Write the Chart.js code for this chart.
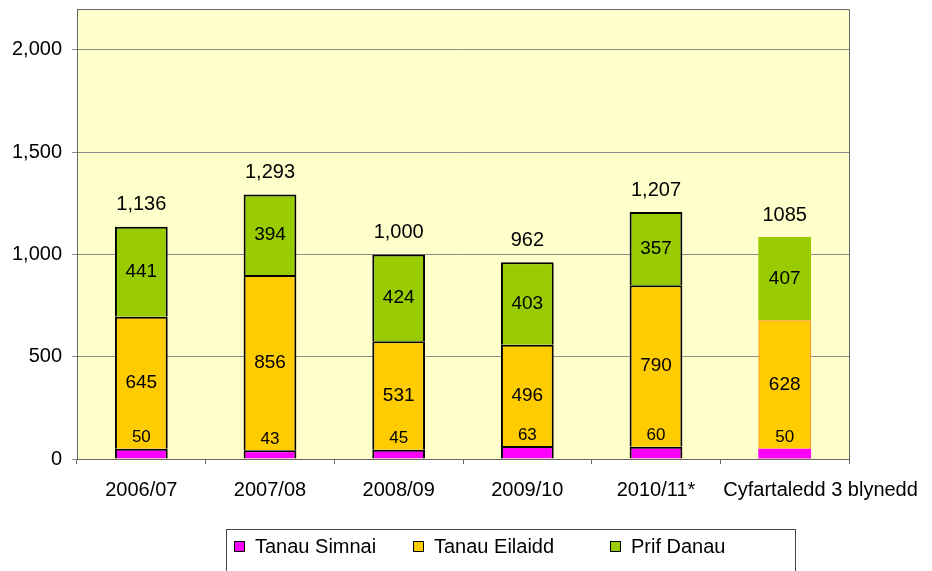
<!DOCTYPE html>
<html>
<head>
<meta charset="utf-8">
<script src="https://cdn.jsdelivr.net/npm/chart.js@4.4.1/dist/chart.umd.min.js"></script>
<style>
  html, body { margin: 0; padding: 0; background: #fff; }
  #wrap { width: 932px; height: 571px; position: relative; }
</style>
</head>
<body>
<div id="wrap"><canvas id="chart"></canvas></div>
<script>
const categories = ['2006/07', '2007/08', '2008/09', '2009/10', '2010/11*', 'Cyfartaledd 3 blynedd'];
const simnai = [50, 43, 45, 63, 60, 50];
const eilaidd = [645, 856, 531, 496, 790, 628];
const prif = [441, 394, 424, 403, 357, 407];
const totalLabels = ['1,136', '1,293', '1,000', '962', '1,207', '1085'];
const yTicks = [0, 500, 1000, 1500, 2000];
const yMax = 2200;
const seriesNames = ['Tanau Simnai', 'Tanau Eilaidd', 'Prif Danau'];

const FONT = "'Liberation Sans', Arial, sans-serif";
const COLORS = {
    simnai: '#FF00FF',
    eilaidd: '#FFCC00',
    prif: '#99CC00',
    plotBg: '#FFFFCC',
    grid: '#8c8c8c',
    axis: '#666666'
};

// last column (the average) is drawn without the black outline
const avgIndex = categories.length - 1;
const edge = (normal, avg) => categories.map((_, i) => i === avgIndex ? avg : normal);

// yellow plot background + top/right frame
const plotArea = {
    id: 'plotArea',
    beforeDraw(chart) {
        const { ctx, chartArea: a } = chart;
        ctx.save();
        ctx.fillStyle = COLORS.plotBg;
        ctx.fillRect(a.left, a.top, a.right - a.left, a.bottom - a.top);
        ctx.restore();
    },
    afterDraw(chart) {
        const { ctx, chartArea: a } = chart;
        ctx.save();
        ctx.strokeStyle = COLORS.axis;
        ctx.lineWidth = 1;
        ctx.beginPath();
        ctx.moveTo(a.left, a.top + 0.5);
        ctx.lineTo(a.right + 0.5, a.top + 0.5);
        ctx.lineTo(a.right + 0.5, a.bottom);
        ctx.stroke();
        ctx.restore();
    }
};

// value labels inside segments and totals on top
const barLabels = {
    id: 'barLabels',
    afterDatasetsDraw(chart) {
        const ctx = chart.ctx;
        ctx.save();
        ctx.fillStyle = '#000';
        ctx.textAlign = 'center';
        ctx.textBaseline = 'middle';
        chart.data.datasets.forEach((ds, di) => {
            const meta = chart.getDatasetMeta(di);
            meta.data.forEach((bar, i) => {
                if (di === 0) {
                    // small segment: label sits just above it
                    ctx.font = '17px ' + FONT;
                    ctx.fillText(ds.data[i], bar.x, bar.y - 11);
                } else {
                    ctx.font = '19px ' + FONT;
                    ctx.fillText(ds.data[i], bar.x, (bar.y + bar.base) / 2);
                }
            });
        });
        const top = chart.getDatasetMeta(chart.data.datasets.length - 1);
        ctx.font = '20px ' + FONT;
        top.data.forEach((bar, i) => {
            ctx.fillText(totalLabels[i], bar.x, bar.y - 22);
        });
        ctx.restore();
    }
};

// category labels; a label that would run into its neighbour is pushed right
const xLabels = {
    id: 'xLabels',
    afterDraw(chart) {
        const ctx = chart.ctx;
        const xs = chart.scales.x;
        ctx.save();
        ctx.font = '20px ' + FONT;
        ctx.fillStyle = '#000';
        ctx.textAlign = 'left';
        ctx.textBaseline = 'middle';
        let prevRight = -Infinity;
        categories.forEach((lab, i) => {
            const w = ctx.measureText(lab).width;
            let left = xs.getPixelForValue(i) - w / 2;
            if (left < prevRight + 20) left = prevRight + 28;
            ctx.fillText(lab, left, xs.top + 31);
            prevRight = left + w;
        });
        ctx.restore();
    }
};

// boxed legend below the chart
const boxLegend = {
    id: 'boxLegend',
    afterDraw(chart) {
        const ctx = chart.ctx;
        const box = { x: 226, y: 529, w: 569, h: 60 };
        const itemX = [8, 187, 384];
        ctx.save();
        ctx.strokeStyle = '#444';
        ctx.lineWidth = 1;
        ctx.strokeRect(box.x + 0.5, box.y + 0.5, box.w, box.h);
        ctx.font = '20px ' + FONT;
        ctx.textBaseline = 'middle';
        ctx.textAlign = 'left';
        chart.data.datasets.forEach((ds, i) => {
            const x = box.x + itemX[i];
            const y = box.y + 18;
            ctx.fillStyle = ds.backgroundColor;
            ctx.fillRect(x, y - 6, 11, 11);
            ctx.strokeStyle = '#000';
            ctx.strokeRect(x + 0.5, y - 5.5, 10, 10);
            ctx.fillStyle = '#000';
            ctx.fillText(seriesNames[i], x + 21, y);
        });
        ctx.restore();
    }
};

new Chart(document.getElementById('chart'), {
    type: 'bar',
    data: {
        labels: categories,
        datasets: [
            {
                label: seriesNames[0],
                data: simnai,
                backgroundColor: COLORS.simnai,
                borderColor: edge('#000', COLORS.simnai),
                borderWidth: edge(2, 0)
            },
            {
                label: seriesNames[1],
                data: eilaidd,
                backgroundColor: COLORS.eilaidd,
                borderColor: edge('#000', '#FF9900'),
                borderWidth: edge(2, 1.5)
            },
            {
                label: seriesNames[2],
                data: prif,
                backgroundColor: COLORS.prif,
                borderColor: edge('#000', COLORS.prif),
                borderWidth: edge(2, 0)
            }
        ]
    },
    options: {
        responsive: true,
        maintainAspectRatio: false,
        animation: false,
        datasets: {
            bar: { barPercentage: 0.41, categoryPercentage: 1 }
        },
        layout: { padding: { top: 9, right: 83, left: 0, bottom: 0 } },
        plugins: {
            legend: { display: false },
            tooltip: { enabled: false }
        },
        scales: {
            x: {
                stacked: true,
                grid: {
                    display: true,
                    offset: true,
                    drawOnChartArea: false,
                    drawTicks: true,
                    tickLength: 5,
                    color: COLORS.axis
                },
                border: { display: true, color: COLORS.axis, width: 1 },
                ticks: { display: false },
                afterFit(scale) {
                    scale.height = 112;
                    scale.paddingLeft = 0;
                    scale.paddingRight = 0;
                }
            },
            y: {
                stacked: true,
                min: 0,
                max: yMax,
                afterBuildTicks(scale) {
                    scale.ticks = yTicks.map(v => ({ value: v }));
                },
                grid: {
                    color: COLORS.grid,
                    drawTicks: true,
                    tickLength: 5
                },
                border: { display: true, color: COLORS.axis, width: 1 },
                ticks: {
                    color: '#000',
                    padding: 10,
                    font: { family: FONT, size: 20 },
                    callback: v => v.toLocaleString('en-US')
                },
                afterFit(scale) {
                    scale.width = 77;
                    scale.paddingTop = 0;
                    scale.paddingBottom = 0;
                }
            }
        }
    },
    plugins: [plotArea, barLabels, xLabels, boxLegend]
});
</script>
</body>
</html>
